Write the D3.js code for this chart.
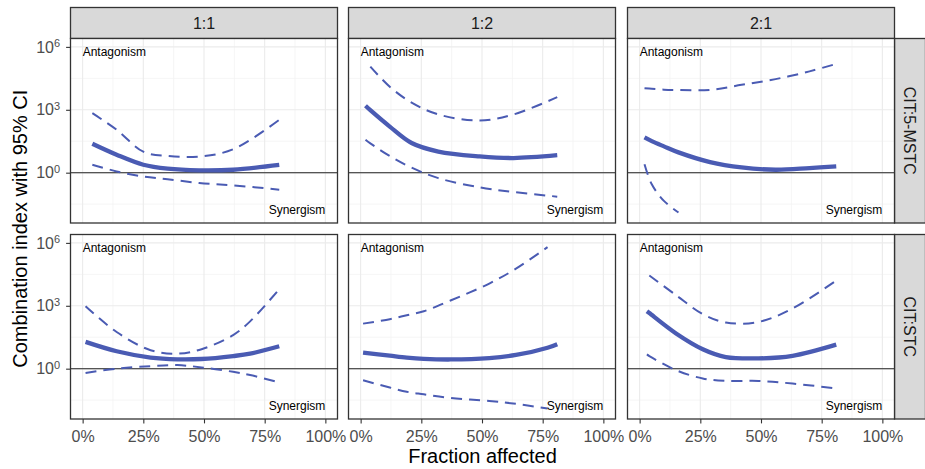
<!DOCTYPE html>
<html>
<head>
<meta charset="utf-8">
<script src="https://cdn.jsdelivr.net/npm/d3@7"></script>
<style>
  html, body { margin: 0; padding: 0; background: #fff; }
  svg { display: block; font-family: "Liberation Sans", Arial, sans-serif; }
</style>
</head>
<body>
<svg id="chart" width="925" height="469"></svg>
<script>
// Facet labels
const ratios = ["1:1", "1:2", "2:1"];
const mixtures = ["CIT:5-MSTC", "CIT:STC"];

// Axis ticks
const xTicks = [0, 0.25, 0.5, 0.75, 1];
const xMinor = [0.125, 0.375, 0.625, 0.875];
const yTicks = [1, 1e3, 1e6];
const yMinor = [Math.pow(10, -1.5), Math.pow(10, 1.5), Math.pow(10, 4.5)];

// CIT:5-MSTC, 1:1 — fraction affected, combination index, lower / upper 95% CI
const fa_m11 = [0.04, 0.14, 0.25, 0.35, 0.48, 0.62, 0.81];
const ci_m11 = [24, 7.2, 2.4, 1.55, 1.29, 1.38, 2.34];
const lo_m11 = [2.4, 1.15, 0.66, 0.49, 0.32, 0.25, 0.155];
const hi_m11 = [690, 112, 10, 6.3, 5.9, 13, 330];

// CIT:5-MSTC, 1:2
const fa_m12 = [0.02, 0.04, 0.12, 0.21, 0.32, 0.49, 0.63, 0.81];
const ci_m12 = [1550, 955, 158, 26, 10.2, 6.0, 5.0, 6.8];
const lo_m12 = [37, 25, 6.2, 1.74, 0.55, 0.2, 0.12, 0.072];
const hi_m12 = [null, 115000, 12600, 2200, 600, 310, 600, 4000];

// CIT:5-MSTC, 2:1
const fa_m21 = [0.02, 0.05, 0.1, 0.16, 0.29, 0.42, 0.56, 0.7, 0.81];
const ci_m21 = [48, 32, 18, 9.3, 3.2, 1.78, 1.38, 1.66, 2.0];
const lo_m21 = [2.5, 0.28, 0.045, 0.0126, null, null, null, null, null];
const hi_m21 = [10700, 10000, 9100, 8800, 8900, 15500, 29000, 68000, 155000];

// CIT:STC, 1:1
const fa_s11 = [0.012, 0.14, 0.28, 0.39, 0.49, 0.62, 0.69, 0.81];
const ci_s11 = [19, 6.8, 3.4, 2.8, 2.9, 4.0, 5.2, 11.7];
const lo_s11 = [0.63, 1.0, 1.32, 1.48, 1.15, 0.71, 0.5, 0.22];
const hi_s11 = [950, 56, 7.6, 5.2, 8.5, 40, 180, 6200];

// CIT:STC, 1:2
const fa_s12 = [0.01, 0.12, 0.19, 0.26, 0.37, 0.53, 0.64, 0.77, 0.81];
const ci_s12 = [5.9, 4.2, 3.4, 2.95, 2.75, 3.2, 4.5, 10, 14.8];
const lo_s12 = [0.28, 0.126, 0.079, 0.06, 0.04, 0.029, 0.021, 0.0126, null];
const hi_s12 = [141, 230, 355, 550, 1780, 11500, 59000, 630000, null];

// CIT:STC, 2:1
const fa_s21 = [0.03, 0.04, 0.15, 0.26, 0.355, 0.49, 0.63, 0.81];
const ci_s21 = [550, 450, 48, 8.5, 3.6, 3.1, 4.1, 14];
const lo_s21 = [4.8, 4.0, 0.85, 0.34, 0.26, 0.26, 0.195, 0.115];
const hi_s21 = [null, 28000, 3200, 400, 158, 170, 740, 16000];

const panels = [
  { r: 0, c: 0, fa: fa_m11, ci: ci_m11, lo: lo_m11, hi: hi_m11 },
  { r: 0, c: 1, fa: fa_m12, ci: ci_m12, lo: lo_m12, hi: hi_m12 },
  { r: 0, c: 2, fa: fa_m21, ci: ci_m21, lo: lo_m21, hi: hi_m21 },
  { r: 1, c: 0, fa: fa_s11, ci: ci_s11, lo: lo_s11, hi: hi_s11 },
  { r: 1, c: 1, fa: fa_s12, ci: ci_s12, lo: lo_s12, hi: hi_s12 },
  { r: 1, c: 2, fa: fa_s21, ci: ci_s21, lo: lo_s21, hi: hi_s21 }
];

// Layout
const colX = [70.5, 348.5, 627.5];
const rowY = [38.5, 234.5];
const panelW = 267, panelH = 184.5;
const stripH = 31;
const lineColor = "#4a5bb3";

const svg = d3.select("#chart");

const x = d3.scaleLinear().domain([-0.05, 1.05]).range([0, panelW]);
const y = d3.scaleLog().domain([Math.pow(10, -2.4), Math.pow(10, 6.4)]).range([panelH, 0]);

svg.append("defs").append("clipPath").attr("id", "panel-clip")
  .append("rect").attr("width", panelW).attr("height", panelH);

// Top strips
ratios.forEach((lab, c) => {
  const g = svg.append("g").attr("transform", `translate(${colX[c]},${rowY[0] - stripH})`);
  g.append("rect").attr("width", panelW).attr("height", stripH)
    .attr("fill", "#d9d9d9").attr("stroke", "#333").attr("stroke-width", 1.3);
  g.append("text").attr("x", panelW / 2).attr("y", stripH / 2).attr("dy", "0.35em")
    .attr("text-anchor", "middle").attr("font-size", 16).attr("fill", "#1a1a1a").text(lab);
});

// Right strips
mixtures.forEach((lab, r) => {
  const g = svg.append("g").attr("transform", `translate(${colX[2] + panelW},${rowY[r]})`);
  g.append("rect").attr("width", stripH).attr("height", panelH)
    .attr("fill", "#d9d9d9").attr("stroke", "#333").attr("stroke-width", 1.3);
  g.append("text").attr("transform", `translate(${stripH / 2},${panelH / 2}) rotate(90)`)
    .attr("dy", "0.35em").attr("text-anchor", "middle").attr("font-size", 16)
    .attr("fill", "#1a1a1a").text(lab);
});

// Smooth curve through the estimated points
const mkLine = (fa, vals) => d3.line()
  .defined((d, i) => vals[i] != null)
  .x((d, i) => x(fa[i]))
  .y((d, i) => y(vals[i]))
  .curve(d3.curveCatmullRom.alpha(0.5))(fa);

panels.forEach(p => {
  const g = svg.append("g").attr("transform", `translate(${colX[p.c]},${rowY[p.r]})`);
  g.append("rect").attr("width", panelW).attr("height", panelH).attr("fill", "#fff");

  // Grid
  const grid = g.append("g");
  grid.selectAll(".xmin").data(xMinor).join("line")
    .attr("x1", d => x(d)).attr("x2", d => x(d)).attr("y1", 0).attr("y2", panelH)
    .attr("stroke", "#f2f2f2").attr("stroke-width", 0.8);
  grid.selectAll(".ymin").data(yMinor).join("line")
    .attr("y1", d => y(d)).attr("y2", d => y(d)).attr("x1", 0).attr("x2", panelW)
    .attr("stroke", "#f2f2f2").attr("stroke-width", 0.8);
  grid.selectAll(".xmaj").data(xTicks).join("line")
    .attr("x1", d => x(d)).attr("x2", d => x(d)).attr("y1", 0).attr("y2", panelH)
    .attr("stroke", "#ebebeb").attr("stroke-width", 1.1);
  grid.selectAll(".ymaj").data(yTicks).join("line")
    .attr("y1", d => y(d)).attr("y2", d => y(d)).attr("x1", 0).attr("x2", panelW)
    .attr("stroke", "#ebebeb").attr("stroke-width", 1.1);

  // Reference line at CI = 1
  g.append("line").attr("x1", 0).attr("x2", panelW).attr("y1", y(1)).attr("y2", y(1))
    .attr("stroke", "#222").attr("stroke-width", 1.1);

  const lines = g.append("g").attr("clip-path", "url(#panel-clip)");
  [p.lo, p.hi].forEach(vals => {
    lines.append("path").attr("d", mkLine(p.fa, vals))
      .attr("fill", "none").attr("stroke", lineColor).attr("stroke-width", 2)
      .attr("stroke-dasharray", "11,7");
  });
  lines.append("path").attr("d", mkLine(p.fa, p.ci))
    .attr("fill", "none").attr("stroke", lineColor).attr("stroke-width", 4.3);

  // Region annotations
  g.append("text").attr("x", x(0)).attr("y", y(1e6) + 9)
    .attr("font-size", 12).attr("fill", "#000").text("Antagonism");
  g.append("text").attr("x", x(1)).attr("y", y(1e-2) - 0.5).attr("text-anchor", "end")
    .attr("font-size", 12).attr("fill", "#000").text("Synergism");

  g.append("rect").attr("width", panelW).attr("height", panelH)
    .attr("fill", "none").attr("stroke", "#333").attr("stroke-width", 1.3);

  // Axes
  if (p.c === 0) {
    const ax = g.append("g").call(d3.axisLeft(y).tickValues(yTicks).tickSize(4.4).tickPadding(6));
    ax.select(".domain").remove();
    ax.selectAll(".tick line").attr("stroke", "#333").attr("stroke-width", 1.1);
    ax.selectAll(".tick text").each(function (d) {
      const t = d3.select(this);
      t.text(null).attr("font-size", 16).attr("fill", "#4d4d4d")
        .attr("font-family", "Liberation Sans, Arial, sans-serif");
      t.append("tspan").text("10");
      t.append("tspan").attr("dy", "-0.5em").attr("font-size", 11)
        .text(Math.round(Math.log10(d)));
    });
  }
  if (p.r === 1) {
    const ax = g.append("g").attr("transform", `translate(0,${panelH})`)
      .call(d3.axisBottom(x).tickValues(xTicks).tickFormat(d3.format(".0%")).tickSize(4.4).tickPadding(7));
    ax.select(".domain").remove();
    ax.selectAll(".tick line").attr("stroke", "#333").attr("stroke-width", 1.1);
    ax.selectAll(".tick text").attr("font-size", 16).attr("fill", "#4d4d4d")
      .attr("font-family", "Liberation Sans, Arial, sans-serif");
  }
});

// Axis titles
svg.append("text").attr("x", (colX[0] + colX[2] + panelW) / 2).attr("y", 463)
  .attr("text-anchor", "middle").attr("font-size", 20).attr("fill", "#000")
  .text("Fraction affected");
svg.append("text")
  .attr("transform", `translate(27,${(rowY[0] + rowY[1] + panelH) / 2}) rotate(-90)`)
  .attr("text-anchor", "middle").attr("font-size", 20).attr("fill", "#000")
  .text("Combination index with 95% CI");
</script>
</body>
</html>
